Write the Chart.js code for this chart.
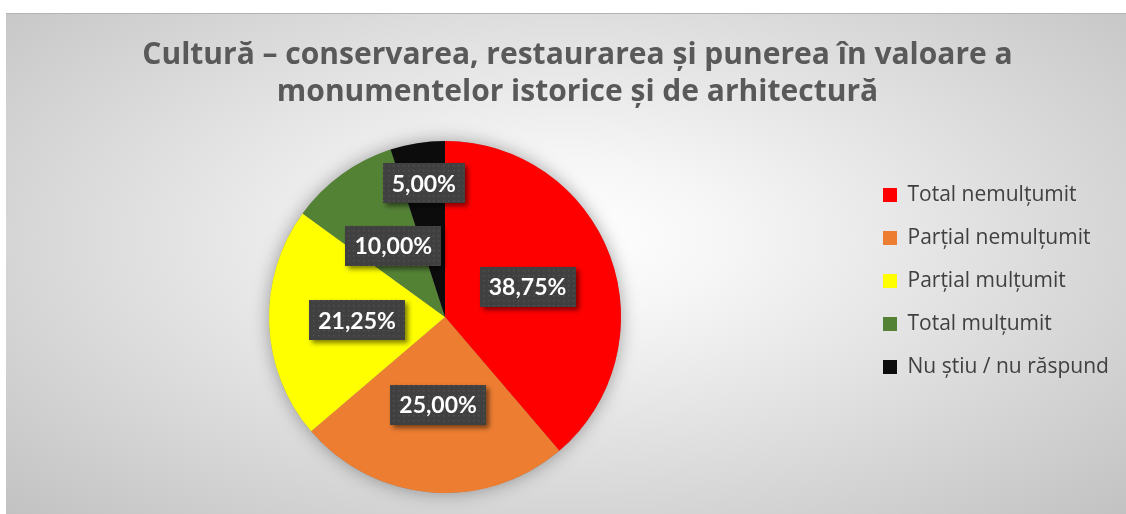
<!DOCTYPE html>
<html lang="ro">
<head>
<meta charset="utf-8">
<title>Cultură – monumente istorice</title>
<script src="https://cdn.jsdelivr.net/npm/chart.js@4.4.1/dist/chart.umd.min.js"></script>
<style>
  html, body { margin: 0; padding: 0; background: #fff; }
  body { width: 1126px; height: 514px; position: relative; overflow: hidden; }
  .chart-box {
    position: absolute; left: 6px; top: 13px; width: 1120px; height: 501px;
    background: radial-gradient(ellipse farthest-corner at 50% 45%, #ffffff 0%, #f6f6f6 20%, #c2c2c2 100%);
    box-shadow: inset 0 1px 0 #b3b3b3;
  }
</style>
</head>
<body>
<div class="chart-box">
  <canvas id="pie" role="img" aria-label="Cultură – monumente istorice"></canvas>
</div>
<script>
const titleLines = [
  'Cultură – conservarea, restaurarea şi punerea în valoare a',
  'monumentelor istorice şi de arhitectură'
];
const categories = ['Total nemulțumit', 'Parțial nemulțumit', 'Parțial mulțumit', 'Total mulțumit', 'Nu știu / nu răspund'];
const percentages = [38.75, 25.00, 21.25, 10.00, 5.00];
const sliceColors = ['#ff0000', '#ed7d31', '#ffff00', '#548235', '#0c0c0c'];

// dark label background with a faint dot texture
const dotTile = (() => {
  const c = document.createElement('canvas');
  c.width = c.height = 5;
  const g = c.getContext('2d');
  g.fillStyle = '#404040';
  g.fillRect(0, 0, 5, 5);
  g.fillStyle = '#505050';
  g.fillRect(2, 2, 1.5, 1.5);
  return c;
})();

const pieLabels = {
  id: 'pieLabels',
  // soft halo under the pie
  beforeDatasetsDraw(chart) {
    const arc = chart.getDatasetMeta(0).data[0];
    if (!arc) return;
    const { ctx } = chart;
    ctx.save();
    ctx.shadowColor = 'rgba(0,0,0,0.35)';
    ctx.shadowBlur = 18;
    ctx.fillStyle = '#888';
    ctx.beginPath();
    ctx.arc(arc.x, arc.y, arc.outerRadius, 0, Math.PI * 2);
    ctx.fill();
    ctx.restore();
  },
  afterDatasetsDraw(chart) {
    const { ctx } = chart;
    const values = chart.data.datasets[0].data;
    const total = values.reduce((a, b) => a + b, 0);
    const pattern = ctx.createPattern(dotTile, 'repeat');
    ctx.save();
    ctx.font = 'bold 23px Lato';
    ctx.textAlign = 'center';
    ctx.textBaseline = 'middle';
    chart.getDatasetMeta(0).data.forEach((arc, i) => {
      const { x, y, startAngle, endAngle, outerRadius } =
        arc.getProps(['x', 'y', 'startAngle', 'endAngle', 'outerRadius'], true);
      const mid = (startAngle + endAngle) / 2;
      // thin slices get their label pushed outwards
      const dist = outerRadius * (values[i] / total < 0.08 ? 0.77 : 0.5);
      const cx = x + Math.cos(mid) * dist;
      const cy = y + Math.sin(mid) * dist;
      const text = values[i].toFixed(2).replace('.', ',') + '%';
      const w = Math.round(ctx.measureText(text).width + 18);
      const h = 40;
      ctx.save();
      ctx.shadowColor = 'rgba(0,0,0,0.5)';
      ctx.shadowBlur = 5;
      ctx.shadowOffsetX = 3;
      ctx.shadowOffsetY = 3;
      ctx.fillStyle = pattern;
      ctx.fillRect(Math.round(cx - w / 2), Math.round(cy - h / 2), w, h);
      ctx.restore();
      ctx.fillStyle = '#ffffff';
      ctx.fillText(text, cx, cy + 1);
    });
    ctx.restore();
  }
};

// fixed legend column, items nudged down to sit level with the pie
const legendLayout = {
  id: 'legendLayout',
  beforeInit(chart) {
    const legend = chart.legend;
    const fit = legend.fit;
    legend.fit = function () { fit.call(this); this.width = 265; };
    const draw = legend.draw;
    legend.draw = function (area) {
      this.ctx.save();
      this.ctx.translate(0, 28);
      draw.call(this, area);
      this.ctx.restore();
    };
  }
};

new Chart(document.getElementById('pie'), {
  type: 'pie',
  data: {
    labels: categories,
    datasets: [{
      data: percentages,
      backgroundColor: sliceColors,
      borderWidth: 0,
      hoverOffset: 0
    }]
  },
  options: {
    responsive: true,
    maintainAspectRatio: false,
    animation: false,
    layout: { padding: { left: 23, right: 0, top: 0, bottom: 21 } },
    plugins: {
      title: {
        display: true,
        text: titleLines,
        color: '#595959',
        font: { family: 'Open Sans', size: 30, weight: 'bold', lineHeight: 1.233 },
        padding: { top: 23.5, bottom: 30.5 }
      },
      legend: {
        position: 'right',
        align: 'center',
        labels: {
          color: '#404040',
          font: { family: 'Open Sans', size: 21 },
          boxWidth: 14,
          boxHeight: 14,
          padding: 22
        }
      },
      tooltip: { enabled: false }
    }
  },
  plugins: [pieLabels, legendLayout]
});
</script>
</body>
</html>
